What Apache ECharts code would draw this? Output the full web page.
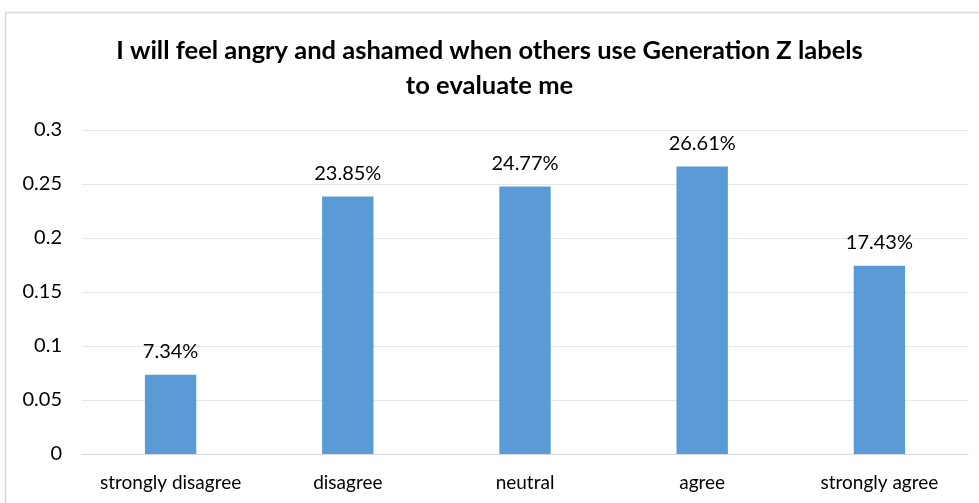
<!DOCTYPE html>
<html><head><meta charset="utf-8">
<script src="https://cdn.jsdelivr.net/npm/echarts@6/dist/echarts.min.js"></script>
<style>html,body{margin:0;padding:0;background:#fff}#c{width:979px;height:503px}</style>
</head><body><div id="c"></div>
<script>
var titleText = "I will feel angry and ashamed when others use Generation Z labels\nto evaluate me";
var categories = ["strongly disagree", "disagree", "neutral", "agree", "strongly agree"];
var values = [0.0734, 0.2385, 0.2477, 0.2661, 0.1743];
var yTicks = [0, 0.05, 0.1, 0.15, 0.2, 0.25, 0.3];

var chart = echarts.init(document.getElementById('c'), null, {renderer: 'canvas'});
chart.setOption({
  animation: false,
  backgroundColor: '#fff',
  graphic: [{
    type: 'rect', silent: true, z: -1,
    shape: {x: 5.5, y: 12.5, width: 1200, height: 800},
    style: {fill: 'none', stroke: '#d9d9d9', lineWidth: 1.5}
  }],
  title: {
    text: titleText, left: 'center', top: 28,
    textStyle: {fontFamily: 'Lato', fontWeight: 'bold', fontSize: 25.5, lineHeight: 35, color: '#000'}
  },
  grid: {left: 82, right: 11, top: 130, bottom: 49, containLabel: false},
  xAxis: {
    type: 'category', data: categories,
    axisLine: {lineStyle: {color: '#d9d9d9', width: 1}},
    axisTick: {show: false},
    axisLabel: {interval: 0, hideOverlap: false, fontFamily: 'Lato', fontSize: 19, color: '#000', margin: 19}
  },
  yAxis: {
    type: 'value', min: yTicks[0], max: yTicks[yTicks.length - 1], interval: 0.05,
    axisLine: {show: false}, axisTick: {show: false},
    splitLine: {lineStyle: {color: '#e6e6e6', width: 1}},
    axisLabel: {fontFamily: 'Lato', fontSize: 20, color: '#000', margin: 20,
      formatter: function (v) { return String(parseFloat(v.toFixed(2))); }}
  },
  series: [{
    type: 'bar', data: values, barWidth: '29%',
    itemStyle: {color: '#5b9bd5'},
    label: {show: true, position: 'top', distance: 13, fontFamily: 'Lato', fontSize: 20, color: '#000',
      formatter: function (p) { return (p.value * 100).toFixed(2) + '%'; }}
  }]
});
</script></body></html>
